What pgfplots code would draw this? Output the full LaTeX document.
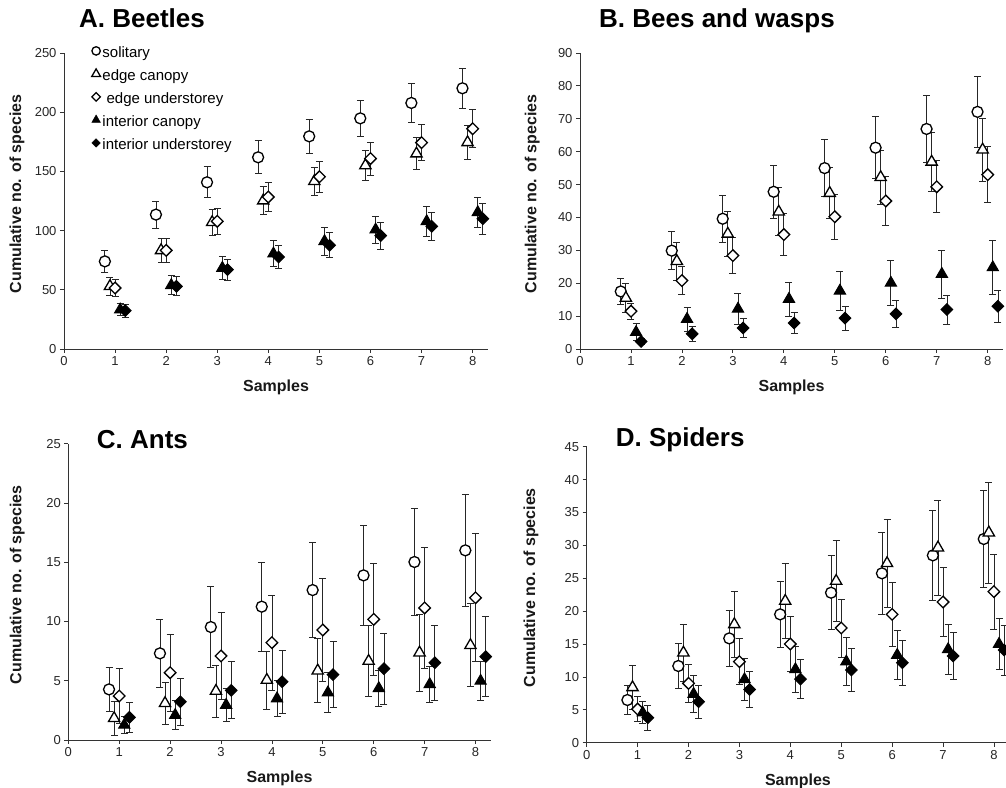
\documentclass[border=0pt]{standalone}
\usepackage{pgfplots}
\pgfplotsset{compat=1.18}
\usepackage{pgfplotstable}
\usepackage{fontspec}
\setmainfont{Liberation Sans}

\pgfplotstableread{
n s se ec ece eu eue ic ice iu iue
1 74 9.5 53 7.5 51.5 7.5 33.2 5 32.4 5.5
2 113.5 11.5 83.3 10 83.3 10 53.8 8 52.9 8
3 140.8 13 107 11 107.8 10.7 68.4 9.5 67 9
4 161.9 14 125.3 12 128.4 12 80.5 11 77.7 10
5 179.6 14.7 141.6 12 145.5 13 91 12 87.6 10.5
6 194.8 15.5 155 12.5 160.8 14 100.8 11.5 95.7 11.5
7 207.8 16.3 165 13.5 174.3 15 107.8 12.5 103.6 12
8 220.2 17 174.5 14 186 16 115.4 13 110 13
}\beetles

\pgfplotstableread{
n s se ec ece eu eue ic ice iu iue
1 17.5 3.9 15.5 4.5 11.5 2.5 5.1 2.6 2.3 1
2 29.9 5.8 26.7 5.8 20.8 4.2 9.1 3.6 4.6 2.3
3 39.6 7.1 35 6.8 28.4 5.5 12.2 4.6 6.4 2.8
4 47.8 8 41.7 7.3 34.8 6.3 15.2 5.2 7.9 3.1
5 55 8.6 47.4 7.8 40.2 6.8 17.7 6 9.4 3.6
6 61.2 9.4 52.2 8.2 45 7.4 20.1 6.8 10.7 4.1
7 66.9 10.1 56.9 9 49.3 7.9 22.8 7.3 12 4.4
8 72.1 10.7 60.6 9.6 53 8.5 24.8 8.2 13 4.8
}\bees

\pgfplotstableread{
n s se ec ece eu eue ic ice iu iue
1 4.27 1.86 1.83 1.4 3.71 2.3 1.27 0.7 1.91 1.27
2 7.31 2.87 3.1 1.8 5.68 3.26 2.1 1.2 3.23 2.0
3 9.53 3.4 4.13 2.2 7.09 3.7 2.95 1.4 4.19 2.4
4 11.25 3.74 5.06 2.45 8.21 4.0 3.5 1.55 4.92 2.67
5 12.65 4.0 5.85 2.7 9.28 4.36 4.0 1.7 5.51 2.8
6 13.89 4.25 6.66 3.0 10.18 4.7 4.36 1.5 6.02 3.0
7 15.02 4.5 7.37 3.26 11.14 5.1 4.7 1.55 6.52 3.15
8 16.0 4.75 7.99 3.5 12.0 5.4 4.98 1.65 7.03 3.37
}\ants

\pgfplotstableread{
n s se ec ece eu eue ic ice iu iue
1 6.49 2.2 8.41 3.3 5.12 1.9 4.56 1.67 3.8 1.9
2 11.66 3.45 13.68 4.35 9.02 2.9 7.4 2.8 6.23 2.5
3 15.86 4.3 17.99 5.0 12.32 3.5 9.63 3.2 8.1 2.8
4 19.51 5.0 21.54 5.7 15.0 4.16 11.15 3.45 9.68 3.0
5 22.8 5.6 24.58 6.2 17.44 4.4 12.32 3.65 11.05 3.25
6 25.75 6.2 27.27 6.7 19.51 4.87 13.33 3.7 12.16 3.45
7 28.48 6.8 29.65 7.25 21.39 5.2 14.19 3.8 13.18 3.6
8 30.97 7.4 31.93 7.7 22.96 5.67 15.0 3.9 14.09 3.8
}\spiders

\pgfplotsset{
  panel/.style={
    scale only axis, axis lines=left, axis line style={-, line width=0.8pt, black!80},
    xmin=0, xmax=8.3, ymin=0, xtick={0,...,8},
    tick align=outside, major tick length=4pt,
    tick style={line width=0.8pt, black!80},
    ticklabel style={font=\fontsize{13}{15}\selectfont, text=black!85},
    /pgf/number format/assume math mode=true,
    xlabel={Samples}, ylabel={Cumulative no. of species},
    label style={font=\bfseries\fontsize{16}{19}\selectfont, text=black!90},
    xlabel style={at={(axis description cs:0.5,-0.13)}, anchor=center},
    clip=false,
    error bars/y dir=both, error bars/y explicit,
    error bars/error bar style={line width=0.8pt, black!85},
    error bars/error mark options={rotate=90, mark size=3.5pt, line width=0.8pt, black!85},
  },
  sol/.style={only marks, mark=*, mark size=5.5pt, mark options={fill=white, draw=black, line width=1.3pt}},
  ecan/.style={only marks, mark=triangle*, mark size=6.5pt, mark options={fill=white, draw=black, line width=1.3pt}},
  eund/.style={only marks, mark=square*, mark size=4.1pt, mark options={rotate=45, fill=white, draw=black, line width=1.3pt}},
  ican/.style={only marks, mark=triangle*, mark size=6.5pt, mark options={fill=black, draw=black, line width=1pt}},
  iund/.style={only marks, mark=square*, mark size=4.1pt, mark options={rotate=45, fill=black, draw=black, line width=1pt}},
}

\newcommand{\panelplots}[1]{%
  \addplot[sol, forget plot] table[x expr=\thisrow{n}-0.2, y=s, y error=se]{#1};
  \addplot[ecan, forget plot] table[x expr=\thisrow{n}-0.1, y=ec, y error=ece]{#1};
  \addplot[eund, forget plot] table[x=n, y=eu, y error=eue]{#1};
  \addplot[ican, forget plot] table[x expr=\thisrow{n}+0.1, y=ic, y error=ice]{#1};
  \addplot[iund, forget plot] table[x expr=\thisrow{n}+0.2, y=iu, y error=iue]{#1};
}

\begin{document}
\begin{tikzpicture}
\useasboundingbox (0pt,0pt) rectangle (1006pt,787pt);

% A. Beetles
\begin{axis}[panel, at={(64pt,438pt)}, anchor=south west, width=424pt, height=296pt,
  ymax=250, ytick={0,50,...,250},
  ylabel style={at={(axis description cs:-0.111,0.524)}, anchor=center},
  legend style={at={(axis cs:0.54,257)}, anchor=north west, draw=none, fill=none,
    font=\fontsize{15}{17}\selectfont, inner sep=0pt, row sep=5pt,
    nodes={inner sep=2pt, text height=10.5pt, text depth=3.5pt}},
  legend cell align=left,
  legend image code/.code={\draw[#1] plot coordinates {(0pt,3pt)};},
]
\panelplots{\beetles}
\addlegendimage{only marks, mark=*, mark size=4.2pt, mark options={fill=white, draw=black, line width=1.3pt}}
\addlegendentry{solitary}
\addlegendimage{only marks, mark=triangle*, mark size=5pt, mark options={fill=white, draw=black, line width=1.3pt}}
\addlegendentry{edge canopy}
\addlegendimage{only marks, mark=square*, mark size=3pt, mark options={rotate=45, fill=white, draw=black, line width=1.3pt}}
\addlegendentry{\ edge understorey}
\addlegendimage{only marks, mark=triangle*, mark size=5pt, mark options={fill=black, draw=black}}
\addlegendentry{interior canopy}
\addlegendimage{only marks, mark=square*, mark size=3pt, mark options={rotate=45, fill=black, draw=black}}
\addlegendentry{interior understorey}
\end{axis}

% B. Bees and wasps
\begin{axis}[panel, at={(580pt,438pt)}, anchor=south west, width=423pt, height=296pt,
  ymax=90, ytick={0,10,...,90},
  ylabel style={at={(axis description cs:-0.113,0.524)}, anchor=center},
]
\panelplots{\bees}
\end{axis}

% C. Ants
\begin{axis}[panel, at={(68.3pt,47pt)}, anchor=south west, width=422.5pt, height=296.3pt,
  ymax=25, ytick={0,5,...,25},
  ylabel style={at={(axis description cs:-0.121,0.524)}, anchor=center},
]
\panelplots{\ants}
\end{axis}

% D. Spiders
\begin{axis}[panel, at={(586.7pt,44.3pt)}, anchor=south west, width=422.5pt, height=296pt,
  ymax=45, ytick={0,5,...,45},
  ylabel style={at={(axis description cs:-0.132,0.524)}, anchor=center},
]
\panelplots{\spiders}
\end{axis}

\begin{scope}[every node/.style={anchor=base west, inner sep=0pt, font=\bfseries\fontsize{26}{30}\selectfont}]
\node at (79pt,759pt) {A. Beetles};
\node at (599pt,759.5pt) {B. Bees and wasps};
\node at (96.7pt,338.7pt) {C. Ants};
\node at (615.7pt,340.3pt) {D. Spiders};
\end{scope}
\end{tikzpicture}
\end{document}
